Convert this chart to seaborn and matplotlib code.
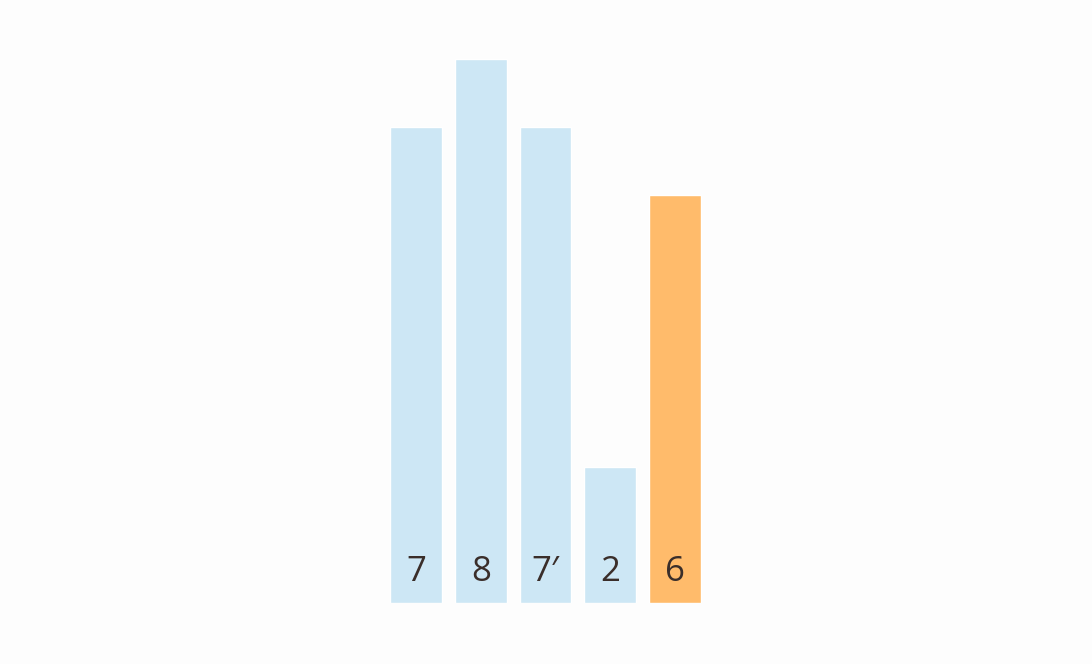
import matplotlib
matplotlib.use("Agg")
import matplotlib.pyplot as plt
import seaborn as sns
import pandas as pd

# chart data
labels = ["7", "8", "7\u2032", "2", "6"]
values = [7, 8, 7, 2, 6]
groups = ["rest", "rest", "rest", "rest", "pick"]

df = pd.DataFrame({"pos": range(len(values)), "value": values, "group": groups})

sns.set_theme(style="white")
plt.rcParams['font.family'] = ['Open Sans', 'DejaVu Sans']

fig = plt.figure(figsize=(10.92, 6.64), dpi=100)
fig.patch.set_facecolor("#fdfdfd")
W, H = 1092, 664
step = 64.75
ax = fig.add_axes([(416 - step / 2) / W, 61 / H, 5 * step / W, 544 / H])
ax.set_facecolor("#fdfdfd")

sns.barplot(data=df, x="pos", y="value", hue="group", dodge=False,
            palette={"rest": "#cde7f5", "pick": "#ffbb6b"},
            width=0.8, legend=False, saturation=1, ax=ax)

for i, lab in enumerate(labels):
    ax.text(i, 0.45, lab, ha="center", va="center", fontsize=25, color="#3a2e2a")

ax.set_xlim(-0.5, 4.5)
ax.set_ylim(0, 8)
ax.axis("off")

fig.savefig("out.png", dpi=100, facecolor=fig.get_facecolor())
